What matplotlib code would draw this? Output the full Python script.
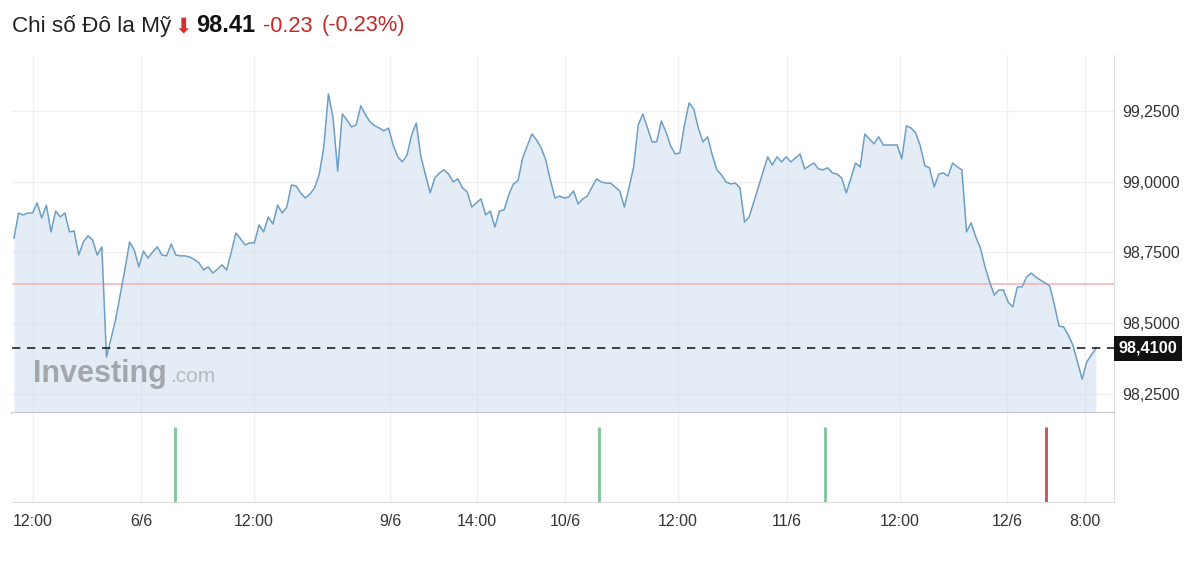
import numpy as np
import matplotlib.pyplot as plt
from matplotlib.transforms import blended_transform_factory

plt.rcParams['font.family'] = ['Liberation Sans', 'DejaVu Sans']

W, H = 1200, 562

# US dollar index, one value per bar
price = [
    98.801, 98.890, 98.883, 98.890, 98.890, 98.926, 98.872, 98.918, 98.823, 98.897,
    98.876, 98.890, 98.823, 98.826, 98.741, 98.787, 98.809, 98.794, 98.741, 98.770,
    98.379, 98.447, 98.514, 98.603, 98.691, 98.787, 98.759, 98.699, 98.755, 98.730,
    98.752, 98.770, 98.741, 98.738, 98.780, 98.741, 98.738, 98.738, 98.734, 98.725,
    98.713, 98.688, 98.699, 98.677, 98.691, 98.706, 98.688, 98.752, 98.819, 98.798,
    98.777, 98.784, 98.784, 98.848, 98.823, 98.876, 98.851, 98.918, 98.890, 98.911,
    98.989, 98.986, 98.961, 98.943, 98.957, 98.979, 99.025, 99.124, 99.312, 99.227,
    99.039, 99.241, 99.220, 99.195, 99.202, 99.270, 99.238, 99.213, 99.199, 99.191,
    99.181, 99.191, 99.131, 99.089,
    99.071, 99.096, 99.167, 99.209, 99.089, 99.025, 98.961, 99.014, 99.032, 99.043,
    99.028, 99.000, 99.011, 98.979, 98.965, 98.911, 98.926, 98.940, 98.883, 98.897,
    98.840, 98.897, 98.901, 98.954, 98.993, 99.004, 99.085, 99.128, 99.170, 99.149,
    99.121, 99.078, 99.007, 98.943, 98.950, 98.943, 98.947, 98.968, 98.922, 98.940,
    98.950, 98.982, 99.011, 99.000, 98.996, 98.996, 98.982, 98.968, 98.911, 98.979,
    99.053, 99.202, 99.241, 99.191, 99.142, 99.142, 99.216, 99.177, 99.128, 99.099,
    99.103, 99.202, 99.280, 99.259, 99.191, 99.142, 99.160, 99.096, 99.043, 99.025,
    99.000, 98.993, 98.996, 98.979, 98.858, 98.876, 98.929, 98.982, 99.035, 99.089,
    99.060, 99.089,
    99.071, 99.089, 99.071, 99.085, 99.099, 99.046, 99.057, 99.067, 99.046, 99.043,
    99.050, 99.032, 99.028, 99.014, 98.961, 99.014, 99.067, 99.053, 99.170, 99.152,
    99.135, 99.160, 99.131, 99.131, 99.131, 99.131, 99.082, 99.199, 99.191, 99.174,
    99.128, 99.057, 99.050, 98.982, 99.028, 99.032, 99.021, 99.067, 99.053, 99.043,
    98.823, 98.855, 98.805, 98.766, 98.699, 98.645, 98.599, 98.617, 98.617, 98.574,
    98.557, 98.628, 98.628, 98.663, 98.677, 98.663, 98.652, 98.642, 98.631, 98.564,
    98.489, 98.486, 98.457, 98.422, 98.362, 98.301, 98.362, 98.387, 98.410,
]
prev_close = 98.64
last_price = 98.41

y_ticks = [98.25, 98.50, 98.75, 99.00, 99.25]
y_tick_labels = ["98,2500", "98,5000", "98,7500", "99,0000", "99,2500"]
x_tick_labels = ["12:00", "6/6", "12:00", "9/6", "14:00", "10/6",
                 "12:00", "11/6", "12:00", "12/6", "8:00"]

# markers in the lower strip (bar index, colour)
event_idx = [34.8, 126.5, 175.4, 223.2]
event_val = [1, 1, 1, 1]
event_col = ['#7cc49a', '#7cc49a', '#7cc49a', '#c0505a']

x = np.arange(len(price))

# pixel layout of the screenshot
first_px, last_px = 14, 1096
step = (last_px - first_px) / (len(price) - 1)
ax_left, ax_right = 12, 1114
tick_px = [33, 141, 254, 390, 477, 565, 678, 787, 900, 1007, 1085]
tick_idx = [(p - first_px) / step for p in tick_px]
xlim = ((ax_left - first_px) / step, (ax_right - first_px) / step)
ylim = (98.181, 99.450)

fig = plt.figure(figsize=(W / 100, H / 100), dpi=100)
ax = fig.add_axes([ax_left / W, 1 - 413 / H, (ax_right - ax_left) / W, (413 - 55) / H])
ax2 = fig.add_axes([ax_left / W, 1 - 502 / H, (ax_right - ax_left) / W, (502 - 413) / H])

grid_col = '#f0f0f0'

# main panel
for t in tick_idx:
    ax.axvline(t, color=grid_col, lw=1, zorder=0)
for v in y_ticks:
    ax.axhline(v, color=grid_col, lw=1, zorder=0)
ax.fill_between(x, price, ylim[0], color='#d3e2ef', alpha=0.6, lw=0, zorder=1)
ax.plot(x, price, color='#6d9ec5', lw=1.1, zorder=3)
ax.axhline(prev_close, color='#f2bcbc', lw=1.3, zorder=2)
ax.axhline(last_price, color='#222222', lw=1.2, dashes=(5, 4), zorder=4)

ax.set_xlim(*xlim)
ax.set_ylim(*ylim)
ax.set_xticks(tick_idx)
ax.tick_params(axis='x', length=0, labelbottom=False)
ax.yaxis.tick_right()
ax.set_yticks(y_ticks, y_tick_labels)
ax.tick_params(axis='y', length=0, pad=6, labelsize=11.5, labelcolor='#333333')
for s in ['top', 'left']:
    ax.spines[s].set_visible(False)
ax.spines['bottom'].set_color('#c5c9cd')
ax.spines['bottom'].set_linewidth(1.5)
ax.spines['right'].set_color('#dddddd')

tr = blended_transform_factory(ax.transAxes, ax.transData)
ax.annotate(f"{last_price:.4f}".replace('.', ','), xy=(1.0, last_price), xycoords=tr,
            xytext=(3.5, 0), textcoords='offset points', ha='left', va='center',
            color='white', fontsize=11.7, fontweight='bold', annotation_clip=False,
            bbox=dict(boxstyle='square,pad=0.3', fc='#111111', ec='none'), zorder=5)

# lower strip
for t in tick_idx:
    ax2.axvline(t, color=grid_col, lw=1, zorder=0)
ax2.vlines(event_idx, 0, event_val, colors=event_col, lw=2)
ax2.set_xlim(*xlim)
ax2.set_ylim(0, 1.19)
ax2.set_yticks([])
ax2.set_xticks(tick_idx, x_tick_labels)
ax2.tick_params(axis='x', length=0, pad=9, labelsize=11.5, labelcolor='#333333')
for s in ['top', 'left']:
    ax2.spines[s].set_visible(False)
for s in ['bottom', 'right']:
    ax2.spines[s].set_color('#dddddd')

# header
ty = 1 - 26 / H
fig.text(12 / W, ty, "Chi số Đô la Mỹ", fontsize=16.2, color='#222222', va='center')
fig.text(183 / W, ty, "⬇", fontsize=15, color='#d32f2f', va='center', ha='center',
         family=['DejaVu Sans'])
fig.text(196 / W, ty, "98.41", fontsize=17, fontweight='bold', color='#111111', va='center')
fig.text(263 / W, ty, "-0.23", fontsize=15.7, color='#c62828', va='center')
fig.text(322 / W, ty, "(-0.23%)", fontsize=15.7, color='#c62828', va='center')

# watermark
wy = 1 - 382 / H
fig.text(33 / W, wy, "Investing", fontsize=22, fontweight='bold', color='#a3a7ab', va='baseline')
fig.text(170 / W, wy, ".com", fontsize=15, color='#b5b9bd', va='baseline')

fig.savefig('out.png', dpi=100)
